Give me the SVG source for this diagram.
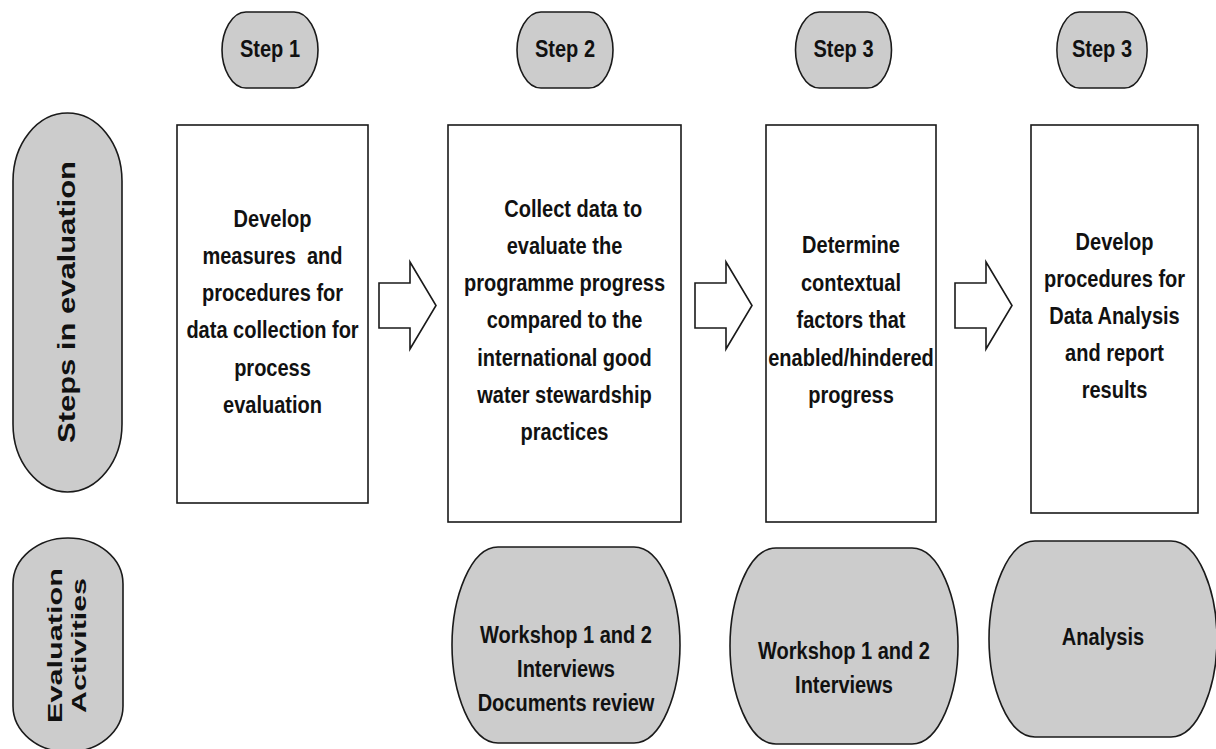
<svg xmlns="http://www.w3.org/2000/svg" xmlns:xlink="http://www.w3.org/1999/xlink" width="1216" height="749" viewBox="0 0 1216 749">
  <style>
    .pill { fill: #cccccc; stroke: #1a1a1a; stroke-width: 1.6; stroke-linejoin: round; }
    .box { fill: #ffffff; stroke: #1a1a1a; stroke-width: 1.6; }
    .arrow { fill: #ffffff; stroke: #1a1a1a; stroke-width: 1.6; stroke-linejoin: miter; }
    .lbl { font-family: "Liberation Sans", Arial, sans-serif; font-weight: bold; font-size: 23px; fill: #111111; text-anchor: middle; }
    .side { font-family: "Liberation Sans", Arial, sans-serif; font-weight: bold; fill: #111111; text-anchor: middle; }
  </style>
  <defs>
    <!-- barrel-shaped badges: flat top and bottom, rounded bulging sides -->
    <path id="stepPill" d="M-24,-38 H24 C38.4,-38 48,-18.2 48,0 C48,18.2 38.4,38 24,38 H-24 C-38.4,38 -48,18.2 -48,0 C-48,-18.2 -38.4,-38 -24,-38 Z"/>
    <path id="actPill" d="M-68,-98 H68 C95.6,-98 114,-47 114,0 C114,47 95.6,98 68,98 H-68 C-95.6,98 -114,47 -114,0 C-114,-47 -95.6,-98 -68,-98 Z"/>
    <!-- hollow block arrow pointing right -->
    <polygon id="blockArrow" points="0,-22.5 31,-22.5 31,-43.5 57,0 31,43.5 31,22.5 0,22.5"/>
  </defs>

  <!-- row headers -->
  <g id="row-steps">
    <rect class="pill" x="13" y="113" width="109" height="379" rx="54.5" ry="68"/>
    <text class="side" font-size="24" textLength="282" lengthAdjust="spacingAndGlyphs" transform="translate(75 302) rotate(-90)" x="0" y="0">Steps in evaluation</text>
  </g>
  <g id="row-activities">
    <rect class="pill" x="13" y="538" width="110" height="214" rx="55" ry="46"/>
    <text class="side" font-size="21" textLength="155" lengthAdjust="spacingAndGlyphs" transform="translate(62 645.5) rotate(-90)" x="0" y="0">Evaluation</text>
    <text class="side" font-size="21" textLength="135" lengthAdjust="spacingAndGlyphs" transform="translate(86 645.5) rotate(-90)" x="0" y="0">Activities</text>
  </g>

  <!-- step badges -->
  <g id="badge-1">
    <use xlink:href="#stepPill" class="pill" transform="translate(270 50)"/>
    <text class="lbl" transform="translate(270 0) scale(0.87 1)" x="0" y="57">Step 1</text>
  </g>
  <g id="badge-2">
    <use xlink:href="#stepPill" class="pill" transform="translate(565 50)"/>
    <text class="lbl" transform="translate(565 0) scale(0.87 1)" x="0" y="57">Step 2</text>
  </g>
  <g id="badge-3">
    <use xlink:href="#stepPill" class="pill" transform="translate(843.5 50)"/>
    <text class="lbl" transform="translate(843.5 0) scale(0.87 1)" x="0" y="57">Step 3</text>
  </g>
  <g id="badge-4">
    <use xlink:href="#stepPill" class="pill" transform="translate(1102 50) scale(0.94 1)"/>
    <text class="lbl" transform="translate(1102 0) scale(0.87 1)" x="0" y="57">Step 3</text>
  </g>

  <!-- process boxes -->
  <g id="box-1">
    <rect class="box" x="177" y="125" width="191" height="378"/>
    <text class="lbl" transform="translate(272.5 0) scale(0.87 1)"><tspan x="0" y="227">Develop</tspan><tspan x="0" y="264">measures &#160;and</tspan><tspan x="0" y="301">procedures for</tspan><tspan x="0" y="338">data collection for</tspan><tspan x="0" y="376">process</tspan><tspan x="0" y="413">evaluation</tspan></text>
  </g>
  <g id="box-2">
    <rect class="box" x="448" y="125" width="233" height="397"/>
    <text class="lbl" transform="translate(564.5 0) scale(0.87 1)"><tspan x="10" y="217">Collect data to</tspan><tspan x="0" y="254">evaluate the</tspan><tspan x="0" y="291">programme progress</tspan><tspan x="0" y="328">compared to the</tspan><tspan x="0" y="366">international good</tspan><tspan x="0" y="403">water stewardship</tspan><tspan x="0" y="440">practices</tspan></text>
  </g>
  <g id="box-3">
    <rect class="box" x="766" y="125" width="170" height="397"/>
    <text class="lbl" transform="translate(851 0) scale(0.87 1)"><tspan x="0" y="253">Determine</tspan><tspan x="0" y="291">contextual</tspan><tspan x="0" y="328">factors that</tspan><tspan x="0" y="366">enabled/hindered</tspan><tspan x="0" y="403">progress</tspan></text>
  </g>
  <g id="box-4">
    <rect class="box" x="1031" y="125" width="167" height="388"/>
    <text class="lbl" transform="translate(1114.5 0) scale(0.87 1)"><tspan x="0" y="250">Develop</tspan><tspan x="0" y="287">procedures for</tspan><tspan x="0" y="324">Data Analysis</tspan><tspan x="0" y="361">and report</tspan><tspan x="0" y="398">results</tspan></text>
  </g>

  <!-- activity badges -->
  <g id="activity-2">
    <use xlink:href="#actPill" class="pill" transform="translate(566 645)"/>
    <text class="lbl" transform="translate(566 0) scale(0.87 1)"><tspan x="0" y="643">Workshop 1 and 2</tspan><tspan x="0" y="677">Interviews</tspan><tspan x="0" y="711">Documents review</tspan></text>
  </g>
  <g id="activity-3">
    <use xlink:href="#actPill" class="pill" transform="translate(844 646)"/>
    <text class="lbl" transform="translate(844 0) scale(0.87 1)"><tspan x="0" y="659">Workshop 1 and 2</tspan><tspan x="0" y="693">Interviews</tspan></text>
  </g>
  <g id="activity-4">
    <use xlink:href="#actPill" class="pill" transform="translate(1103 639)"/>
    <text class="lbl" transform="translate(1103 0) scale(0.87 1)" x="0" y="645">Analysis</text>
  </g>

  <!-- connectors between process boxes -->
  <g id="connectors">
    <use xlink:href="#blockArrow" class="arrow" transform="translate(379 305.5)"/>
    <use xlink:href="#blockArrow" class="arrow" transform="translate(695 305.5)"/>
    <use xlink:href="#blockArrow" class="arrow" transform="translate(955 305.5)"/>
  </g>
</svg>
